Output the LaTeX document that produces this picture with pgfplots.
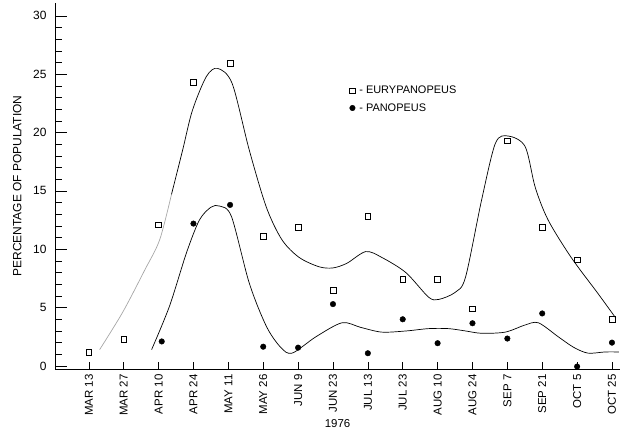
\documentclass[border=0pt]{standalone}
\usepackage{fontspec}
\setmainfont{Liberation Sans}
\usepackage{pgfplots}
\pgfplotsset{compat=1.18}
\begin{document}
\begin{tikzpicture}
\useasboundingbox (-55bp,-75bp) rectangle (569bp,369bp);
\begin{axis}[
  at={(0,0)}, anchor=south west,
  scale only axis, width=565bp, height=366bp,
  xmin=-0.97, xmax=15.23, ymin=-0.26, ymax=31.1,
  axis lines=left, axis line style={-, line width=0.9pt},
  tick align=inside, tick style={black, line width=0.6pt},
  major tick length=12bp, minor tick length=7bp,
  xtick={0,...,15},
  xticklabels={MAR 13,MAR 27,APR 10,APR 24,MAY 11,MAY 26,JUN 9,JUN 23,JUL 13,JUL 23,AUG 10,AUG 24,SEP 7,SEP 21,OCT 5,OCT 25},
  x tick label style={rotate=90, anchor=east, font=\fontsize{11.5}{13}\selectfont, xshift=-2bp},
  xtick style={/pgfplots/major tick length=7bp},
  ytick={0,5,...,30}, minor y tick num=4,
  y tick label style={font=\fontsize{12}{14}\selectfont, xshift=-5bp},
  /pgf/number format/assume math mode=true,
  xlabel={1976}, ylabel={PERCENTAGE OF POPULATION},
  xlabel style={font=\fontsize{11.5}{13}\selectfont, yshift=3bp},
  ylabel style={font=\fontsize{12}{14}\selectfont, at={(axis description cs:0,0.5)}, anchor=south, yshift=30bp},
  legend style={at={(axis cs:7.47,24.15)}, anchor=north west, draw=none, fill=none,
    font=\fontsize{11}{13}\selectfont, row sep=4pt, inner sep=0pt},
  legend cell align=left,
  legend image code/.code={\draw[#1] plot coordinates {(0.18cm,0cm)};},
]
% data points
\addplot[only marks, mark=square, mark size=2.9pt, mark options={line width=0.6pt}] coordinates {
(0,1.2) (1,2.3) (2,12.1) (3,24.3) (4.05,25.9) (5,11.1) (6,11.9) (7,6.45) (8,12.8) (9,7.4)
(10,7.4) (11,4.9) (12,19.3) (13,11.9) (14,9.1) (15,4.0)};
\addlegendentry{\hspace{2pt}- EURYPANOPEUS}
\addplot[only marks, mark=*, mark size=2.8pt] coordinates {
(2.09,2.1) (3,12.2) (4.05,13.8) (5,1.65) (6,1.57) (7,5.3) (8,1.09) (9,4.0)
(10,1.95) (11,3.66) (12,2.35) (13,4.5) (14,-0.05) (15,2.0)};
\addlegendentry{\hspace{2pt}- PANOPEUS}
% fitted curves (traced)
\addplot[forget plot, smooth, gray!70, line width=0.7pt] coordinates {
(0.31,1.4) (0.97,4.6) (1.6,8.2) (2.03,10.8) (2.37,14.7)};
\addplot[forget plot, smooth, black, line width=0.7pt] coordinates {
(2.37,14.7) (2.69,18.5) (2.97,21.9) (3.37,24.8) (3.69,25.5) (4.11,24.2) (4.6,18.5)
(5.09,13.6) (5.54,10.8) (6.03,9.3) (6.6,8.5) (7.0,8.4) (7.4,8.8) (7.94,9.8) (8.4,9.3)
(9.09,8.0) (9.74,5.9) (10.03,5.7) (10.5,6.3) (10.8,7.6) (11.26,14.2) (11.66,19.1)
(12.03,19.7) (12.51,18.8) (12.8,15.3) (13.17,12.5) (13.83,9.3) (14.6,6.2) (15.11,4.1)};
\addplot[forget plot, smooth, black, line width=0.7pt] coordinates {
(1.8,1.4) (2.31,5.1) (2.8,9.7) (3.17,12.5) (3.5,13.6) (3.75,13.7) (4.09,12.8) (4.6,7.1)
(5.09,3.4) (5.5,1.6) (5.83,1.1) (6.51,2.5) (7.26,3.7) (7.8,3.3) (8.4,2.9) (9.1,3.0)
(9.74,3.2) (10.31,3.2) (10.8,3.0) (11.26,2.8) (11.94,2.9) (12.5,3.5) (12.89,3.7)
(13.46,2.5) (13.9,1.6) (14.31,1.1) (14.8,1.2) (15.2,1.2)};
\end{axis}
\end{tikzpicture}
\end{document}
